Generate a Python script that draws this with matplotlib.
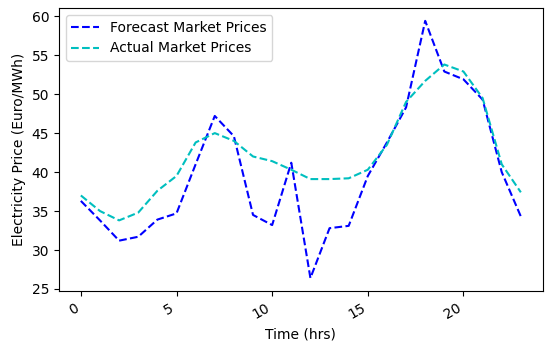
import matplotlib
matplotlib.use("Agg")
import matplotlib.pyplot as plt

hours = list(range(24))
forecast = [36.3, 33.8, 31.2, 31.7, 33.9, 34.7, 41.0, 47.2, 44.6, 34.5, 33.2, 41.2,
            26.4, 32.8, 33.1, 39.5, 43.8, 48.3, 59.4, 52.9, 51.9, 49.3, 40.0, 34.3]
actual = [37.0, 35.0, 33.8, 34.8, 37.6, 39.5, 43.8, 45.0, 44.0, 42.0, 41.4, 40.3,
          39.1, 39.1, 39.2, 40.3, 43.5, 49.0, 51.7, 53.8, 52.9, 49.5, 41.0, 37.4]

fig, ax = plt.subplots(figsize=(5.5, 3.48), dpi=100)
ax.plot(hours, forecast, 'b--', label='Forecast Market Prices')
ax.plot(hours, actual, 'c--', label='Actual Market Prices')
ax.set_xlabel('Time (hrs)')
ax.set_ylabel('Electricity Price (Euro/MWh)')
ax.legend(loc='upper left')
for lbl in ax.get_xticklabels():
    lbl.set_rotation(30)
    lbl.set_ha('right')
fig.subplots_adjust(left=0.107, right=0.987, top=0.977, bottom=0.164)
fig.savefig('out.png')
